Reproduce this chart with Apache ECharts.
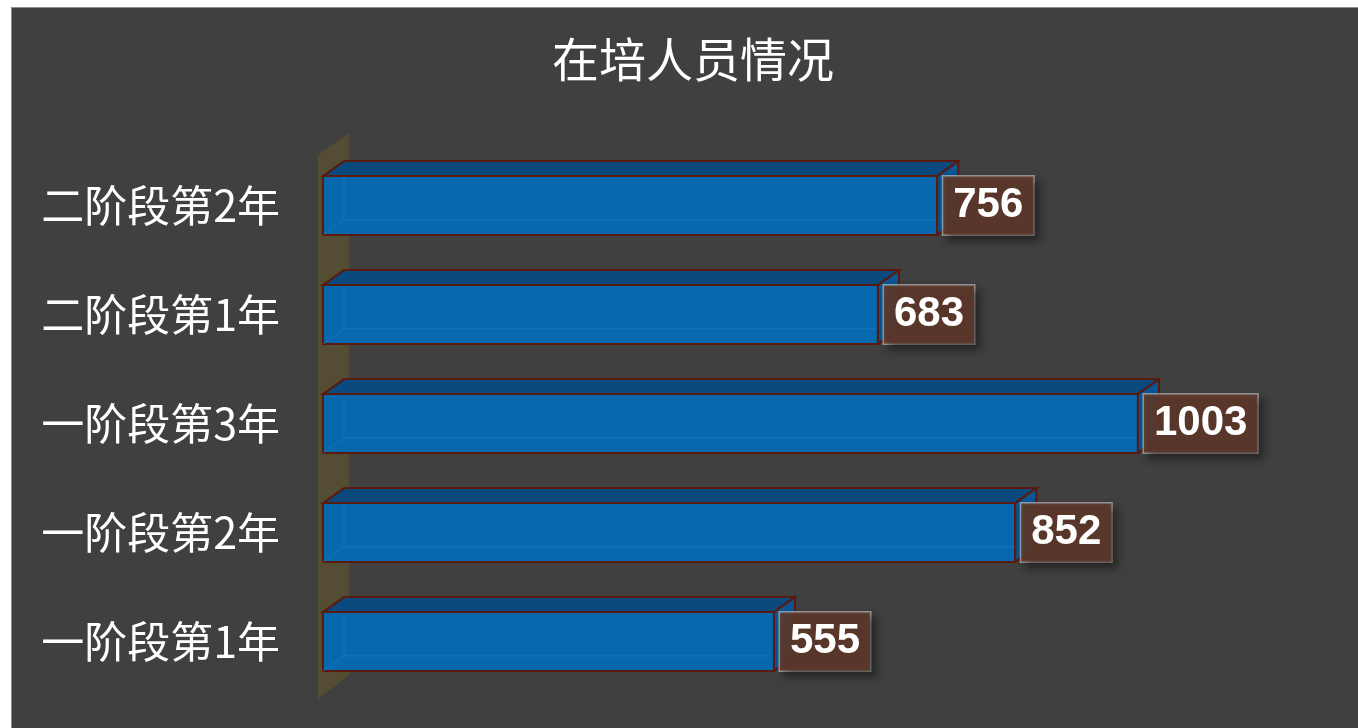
<!DOCTYPE html>
<html>
<head>
<meta charset="utf-8">
<script src="https://cdn.jsdelivr.net/npm/echarts@6/dist/echarts.min.js"></script>
<style>
  html, body { margin: 0; padding: 0; background: #fff; }
  .main-box {
    position: absolute; left: 11px; top: 7px;
    width: 1347px; height: 721px;
    border-left: 1px solid #8c8c8c; border-top: 1px solid #8c8c8c;
    background: #404040;
  }
  .main-content { width: 1346px; height: 720px; }
</style>
</head>
<body>
<div class="main-box"><div class="main-content" id="chart"></div></div>
<script>
const categories = ['一阶段第1年', '一阶段第2年', '一阶段第3年', '二阶段第1年', '二阶段第2年']
const values = [555, 852, 1003, 683, 756]

// 立体柱的进深
const depthX = 21
const depthY = -15

const chartInstance = echarts.init(document.getElementById('chart'))

// 左侧的"墙"
const renderWall = (params, api) => {
  const cs = params.coordSys
  const x0 = cs.x
  const top = cs.y
  const bottom = cs.y + cs.height
  return {
    type: 'polygon',
    shape: {
      points: [
        [x0 - 5, top + 4],
        [x0 + 26, top - 18],
        [x0 + 26, bottom - 21],
        [x0 - 5, bottom + 3]
      ]
    },
    style: { fill: '#554c34' },
    silent: true
  }
}

const renderBar = (params, api) => {
  const start = api.coord([0, api.value(1)])
  const end = api.coord([api.value(0), api.value(1)])
  const h = api.size([0, 1])[1] * 0.54
  const x0 = start[0]
  const x1 = end[0]
  const y0 = start[1] - h / 2
  const y1 = start[1] + h / 2
  const edge = '#5a1a0e'
  return {
    type: 'group',
    children: [
      {
        // 正面
        type: 'rect',
        shape: { x: x0, y: y0, width: x1 - x0, height: h },
        style: { fill: '#0868ae', stroke: edge, lineWidth: 2 }
      },
      {
        // 背面的隐藏线
        type: 'polyline',
        shape: {
          points: [
            [x0 + depthX, y0 + depthY],
            [x0 + depthX, y1 + depthY],
            [x1 + depthX, y1 + depthY]
          ]
        },
        style: { fill: null, stroke: 'rgba(30,115,185,0.9)', lineWidth: 1 }
      },
      {
        type: 'line',
        shape: { x1: x0, y1: y1, x2: x0 + depthX, y2: y1 + depthY },
        style: { stroke: 'rgba(30,115,185,0.9)', lineWidth: 1 }
      },
      {
        // 顶面
        type: 'polygon',
        shape: {
          points: [
            [x0, y0],
            [x0 + depthX, y0 + depthY],
            [x1 + depthX, y0 + depthY],
            [x1, y0]
          ]
        },
        style: { fill: '#0a4a7e', stroke: edge, lineWidth: 2 }
      },
      {
        // 侧面
        type: 'polygon',
        shape: {
          points: [
            [x1, y0],
            [x1 + depthX, y0 + depthY],
            [x1 + depthX, y1 + depthY],
            [x1, y1]
          ]
        },
        style: { fill: '#0a5592', stroke: edge, lineWidth: 2 }
      },
      {
        // 数值标签
        type: 'text',
        x: x1 + 6,
        y: start[1],
        style: {
          text: String(api.value(0)),
          font: 'bold 42px "Liberation Sans", Arial, sans-serif',
          fill: '#ffffff',
          align: 'left',
          verticalAlign: 'middle',
          lineHeight: 42,
          padding: [8, 10, 8, 10],
          backgroundColor: 'rgba(92,56,42,0.92)',
          borderColor: 'rgba(200,200,200,0.65)',
          borderWidth: 1.5,
          shadowColor: 'rgba(0,0,0,0.45)',
          shadowBlur: 8,
          shadowOffsetX: 5,
          shadowOffsetY: 5
        },
        z2: 10
      }
    ]
  }
}

const initOption = {
  backgroundColor: '#404040',
  animation: false,
  title: {
    text: '在培人员情况',
    left: 535,
    top: 23,
    textStyle: {
      color: '#ffffff',
      fontSize: 47,
      fontWeight: 'normal',
      fontFamily: '"Noto Sans CJK SC", sans-serif'
    }
  },
  grid: {
    left: 311,
    top: 143,
    height: 545,
    right: 60,
    containLabel: false
  },
  xAxis: {
    type: 'value',
    min: 0,
    max: 1200,
    show: false
  },
  yAxis: {
    type: 'category',
    data: categories,
    axisLine: { show: false },
    axisTick: { show: false },
    splitLine: { show: false },
    axisLabel: {
      color: '#ffffff',
      fontSize: 43,
      margin: 43,
      fontFamily: '"Noto Sans CJK SC", sans-serif'
    }
  },
  series: [
    {
      type: 'custom',
      renderItem: renderWall,
      data: [[0, 0]],
      encode: { x: 0, y: 1 },
      silent: true,
      z: 1
    },
    {
      type: 'custom',
      renderItem: renderBar,
      data: values.map((v, i) => [v, i]),
      encode: { x: 0, y: 1 },
      z: 2
    }
  ]
}
chartInstance.setOption(initOption)
</script>
</body>
</html>
